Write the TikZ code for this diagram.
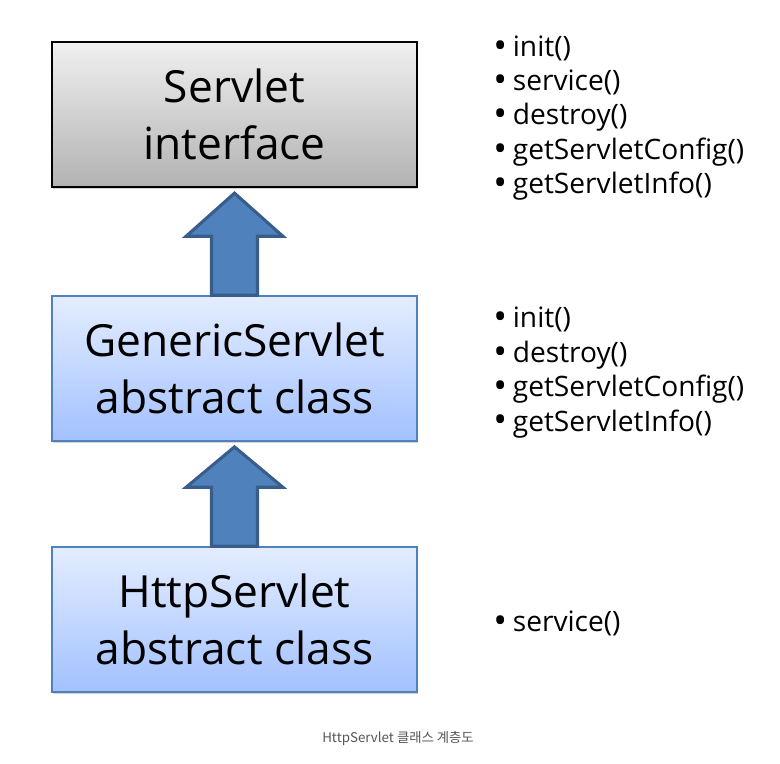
\documentclass[tikz,border=0pt]{standalone}
\usepackage{fontspec}
\setmainfont{Open Sans}
\newfontfamily\cjk{Noto Sans CJK KR}
\usetikzlibrary{calc,shadows}
\definecolor{ifgrayt}{HTML}{F0F0F0}
\definecolor{ifgrayb}{HTML}{B2B2B2}
\definecolor{clsbluet}{HTML}{E4EDFF}
\definecolor{clsblueb}{HTML}{A2C1FF}
\definecolor{clsline}{HTML}{4F81BD}
\definecolor{arrfill}{HTML}{4F81BD}
\definecolor{arrline}{HTML}{385D8A}
\definecolor{capgray}{HTML}{555555}
\newcommand{\meth}[1]{\makebox[13.8pt][l]{\raisebox{-1.4pt}{\scalebox{1.3}{•}}}#1}

\begin{document}
\begin{tikzpicture}[
      klass/.style={minimum width=9.125cm, minimum height=3.625cm, align=center,
        font=\fontsize{31.5}{40}\selectfont, inner sep=0pt,
        drop shadow={opacity=0.35, shadow xshift=0.8pt, shadow yshift=-1.2pt}},
      iface/.style={klass, draw=black, line width=1.4pt, top color=ifgrayt, bottom color=ifgrayb},
      absc/.style={klass, draw=clsline, line width=1pt, top color=clsbluet, bottom color=clsblueb},
      methods/.style={anchor=west, align=left, inner sep=0pt, font=\fontsize{20}{24.5}\selectfont},
      blockarr/.style={draw=arrline, fill=arrfill, line width=2.2pt, line join=miter}]
    \useasboundingbox (0,0) rectangle (19.5,19.1);
    % class boxes
    \node[iface] (srv) at (5.8625,16.2375) {Servlet\\interface};
    \node[absc] (gen) at (5.8625,9.8875) {GenericServlet\\abstract class};
    \node[absc] (http) at (5.8625,3.6125) {HttpServlet\\abstract class};
    % method lists
    \node[methods] (srvm) at (12.33,16.15) {\meth{init()}\\\meth{service()}\\\meth{destroy()}\\\meth{getServletConfig()}\\\meth{getServletInfo()}};
    \node[methods] (genm) at (12.33,9.79) {\meth{init()}\\\meth{destroy()}\\\meth{getServletConfig()}\\\meth{getServletInfo()}};
    \node[methods] (httpm) at (12.33,3.51) {\meth{service()}};
    % inheritance arrows
    \foreach \lo/\hi in {gen/srv, http/gen}
      \draw[blockarr] ($(\lo.north)+(-0.575,0)$) -- ++(0,1.475) -- ++(-0.635,0)
        -- ($(\hi.south)+(0,-0.13)$) -- ($(\lo.north)+(1.21,1.475)$) -- ++(-0.635,0)
        -- ($(\lo.north)+(0.575,0)$) -- cycle;
    \node[font=\cjk\fontsize{9.5}{11}\selectfont, text=capgray] (cap) at (9.95,0.65) {HttpServlet 클래스 계층도};
  \end{tikzpicture}
\end{document}
